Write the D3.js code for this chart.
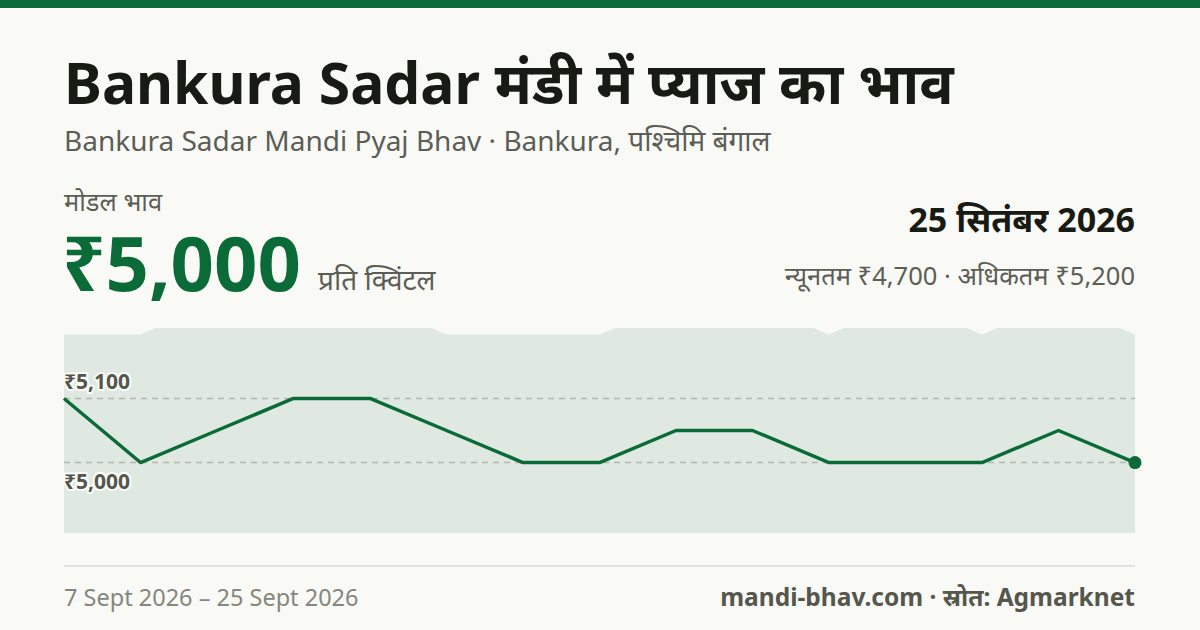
<!DOCTYPE html>
<html lang="hi">
<head>
  <meta charset="UTF-8">
  <title>Bankura Sadar मंडी में प्याज का भाव</title>
  <script src="https://d3js.org/d3.v7.min.js"></script>
  <style>
    html, body {
      margin: 0;
      padding: 0;
      background: #f9faf6;
    }

    svg {
      display: block;
      font-family: "Noto Sans", "Noto Sans Devanagari", sans-serif;
    }
  </style>
</head>
<body>
  <div id="chart"></div>

  <script>
    // भाव (₹ प्रति क्विंटल), 7 Sept – 25 Sept 2026
    const dates = ["7 Sept", "8 Sept", "9 Sept", "10 Sept", "11 Sept", "12 Sept", "14 Sept", "15 Sept",
                   "16 Sept", "17 Sept", "18 Sept", "19 Sept", "22 Sept", "23 Sept", "25 Sept"];
    const modalPrice = [5100, 5000, 5050, 5100, 5100, 5050, 5000, 5000, 5050, 5050, 5000, 5000, 5000, 5050, 5000];
    const maxPrice   = [5200, 5200, 5250, 5250, 5250, 5200, 5200, 5200, 5250, 5250, 5200, 5250, 5200, 5250, 5200];
    const minPrice   = [4800, 4700, 4800, 4800, 4800, 4700, 4700, 4700, 4800, 4800, 4700, 4700, 4700, 4800, 4700];
    const gridTicks  = [5000, 5100];

    const width = 1200;
    const height = 630;
    const green = "#0b6b38";

    const svg = d3.select("#chart")
      .append("svg")
      .attr("width", width)
      .attr("height", height);

    // ऊपर की हरी पट्टी
    svg.append("rect")
      .attr("width", width)
      .attr("height", 8)
      .attr("fill", green);

    svg.append("text")
      .attr("x", 64).attr("y", 104)
      .attr("font-size", 57).attr("font-weight", 700)
      .attr("fill", "#181a14")
      .text("Bankura Sadar मंडी में प्याज का भाव");

    svg.append("text")
      .attr("x", 64).attr("y", 151)
      .attr("font-size", 28)
      .attr("fill", "#5c5e56")
      .text("Bankura Sadar Mandi Pyaj Bhav · Bankura, पश्चिमि बंगाल");

    svg.append("text")
      .attr("x", 64).attr("y", 211)
      .attr("font-size", 25.5)
      .attr("fill", "#5c5e56")
      .text("मोडल भाव");

    const last = modalPrice.length - 1;

    svg.append("text")
      .attr("x", 62).attr("y", 291)
      .attr("font-size", 76).attr("font-weight", 700)
      .attr("fill", green)
      .text("₹" + d3.format(",")(modalPrice[last]));

    svg.append("text")
      .attr("x", 318).attr("y", 290)
      .attr("font-size", 28)
      .attr("fill", "#5c5e56")
      .text("प्रति क्विंटल");

    svg.append("text")
      .attr("x", 1135).attr("y", 232)
      .attr("text-anchor", "end")
      .attr("font-size", 34).attr("font-weight", 700)
      .attr("fill", "#181a14")
      .text("25 सितंबर 2026");

    svg.append("text")
      .attr("x", 1135).attr("y", 285)
      .attr("text-anchor", "end")
      .attr("font-size", 25.5)
      .attr("fill", "#5c5e56")
      .text("न्यूनतम ₹" + d3.format(",")(minPrice[last]) + " · अधिकतम ₹" + d3.format(",")(maxPrice[last]));

    // चार्ट क्षेत्र
    const plot = { left: 64, right: 1135, top: 328, bottom: 533 };

    const x = d3.scalePoint()
      .domain(dates)
      .range([plot.left, plot.right]);

    const y = d3.scaleLinear()
      .domain([4890, 5210])
      .range([plot.bottom, plot.top]);

    svg.append("clipPath")
      .attr("id", "plot-clip")
      .append("rect")
      .attr("x", plot.left)
      .attr("y", plot.top)
      .attr("width", plot.right - plot.left)
      .attr("height", plot.bottom - plot.top);

    const rows = dates.map((d, i) => ({
      date: d,
      modal: modalPrice[i],
      min: minPrice[i],
      max: maxPrice[i]
    }));

    // न्यूनतम–अधिकतम पट्टी
    svg.append("path")
      .datum(rows)
      .attr("clip-path", "url(#plot-clip)")
      .attr("fill", "#dfe9e1")
      .attr("d", d3.area()
        .x(d => x(d.date))
        .y0(d => y(d.min))
        .y1(d => y(d.max)));

    // ग्रिड रेखाएँ
    svg.selectAll(".grid")
      .data(gridTicks)
      .enter()
      .append("line")
      .attr("class", "grid")
      .attr("x1", plot.left)
      .attr("x2", plot.right)
      .attr("y1", d => y(d))
      .attr("y2", d => y(d))
      .attr("stroke", "#b3b6ae")
      .attr("stroke-width", 1.5)
      .attr("stroke-dasharray", "6 5");

    svg.selectAll(".tick-label")
      .data(gridTicks)
      .enter()
      .append("text")
      .attr("class", "tick-label")
      .attr("x", plot.left)
      .attr("y", d => d === d3.max(gridTicks) ? y(d) - 9 : y(d) + 26)
      .attr("font-size", 21).attr("font-weight", 700)
      .attr("fill", "#55574d")
      .attr("stroke", "#fbfcf9")
      .attr("stroke-width", 4)
      .attr("stroke-linejoin", "round")
      .attr("paint-order", "stroke")
      .text(d => "₹" + d3.format(",")(d));

    // मोडल भाव रेखा
    svg.append("path")
      .datum(rows)
      .attr("fill", "none")
      .attr("stroke", green)
      .attr("stroke-width", 3.5)
      .attr("stroke-linejoin", "round")
      .attr("d", d3.line()
        .x(d => x(d.date))
        .y(d => y(d.modal)));

    svg.append("circle")
      .attr("cx", x(dates[last]))
      .attr("cy", y(modalPrice[last]))
      .attr("r", 6.5)
      .attr("fill", green);

    // फुटर
    svg.append("line")
      .attr("x1", 64).attr("x2", 1135)
      .attr("y1", 566).attr("y2", 566)
      .attr("stroke", "#e2e3db")
      .attr("stroke-width", 2);

    svg.append("text")
      .attr("x", 64).attr("y", 606)
      .attr("font-size", 23.5)
      .attr("fill", "#85877e")
      .text("7 Sept 2026 – 25 Sept 2026");

    svg.append("text")
      .attr("x", 1135).attr("y", 606)
      .attr("text-anchor", "end")
      .attr("font-size", 24.5).attr("font-weight", 700)
      .attr("fill", "#55574d")
      .text("mandi-bhav.com · स्रोत: Agmarknet");
  </script>
</body>
</html>
